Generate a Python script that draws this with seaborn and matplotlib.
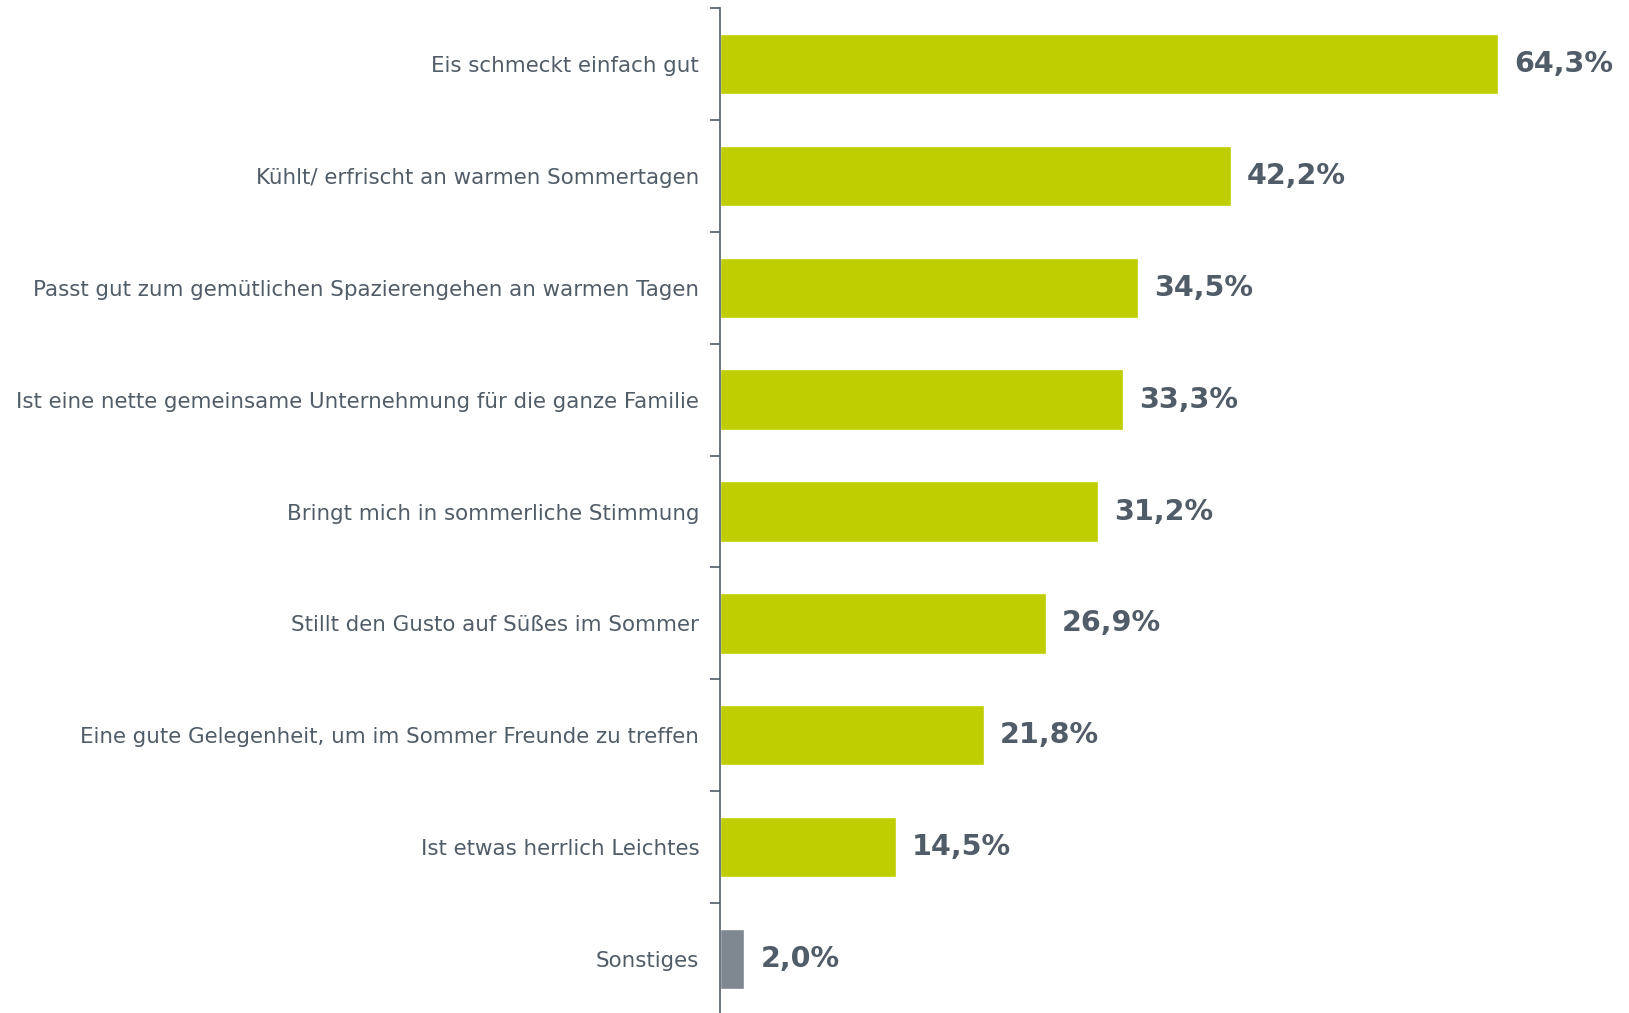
import pandas as pd
import matplotlib.pyplot as plt
import seaborn as sns
from matplotlib.ticker import FixedLocator

# Daten
categories = [
    "Eis schmeckt einfach gut",
    "Kühlt/ erfrischt an warmen Sommertagen",
    "Passt gut zum gemütlichen Spazierengehen an warmen Tagen",
    "Ist eine nette gemeinsame Unternehmung für die ganze Familie",
    "Bringt mich in sommerliche Stimmung",
    "Stillt den Gusto auf Süßes im Sommer",
    "Eine gute Gelegenheit, um im Sommer Freunde zu treffen",
    "Ist etwas herrlich Leichtes",
    "Sonstiges",
]
values = [64.3, 42.2, 34.5, 33.3, 31.2, 26.9, 21.8, 14.5, 2.0]
bar_colors = ["#BFCE00"] * 8 + ["#7F8790"]

TEXT = "#505C68"

sns.set_style("white")
plt.rcParams['font.family'] = ['DejaVu Sans']

df = pd.DataFrame({"Grund": categories, "Anteil": values})

fig = plt.figure(figsize=(16.29, 10.13), dpi=100)
ax = fig.add_axes([720 / 1629, -2 / 1013, 909 / 1629, 1007 / 1013])

sns.barplot(data=df, x="Anteil", y="Grund", hue="Grund", palette=bar_colors,
            legend=False, width=0.54, saturation=1, ax=ax)

ax.set_xlim(0, 75.1)
ax.set_ylim(len(categories) - 0.5, -0.5)

# Wertbeschriftungen
for i, v in enumerate(values):
    ax.text(v + 1.35, i, f"{v:.1f}%".replace(".", ","), va="center", ha="left",
            fontsize=20.6, fontweight="bold", color=TEXT)

ax.set_xlabel("")
ax.set_ylabel("")
ax.set_xticks([])
for s in ["top", "right", "bottom"]:
    ax.spines[s].set_visible(False)
ax.spines["left"].set_color(TEXT)
ax.spines["left"].set_linewidth(1.2)

ax.yaxis.set_minor_locator(FixedLocator([i - 0.5 for i in range(len(categories) + 1)]))
ax.tick_params(axis="y", which="major", length=0, pad=15, labelsize=15.4, labelcolor=TEXT)
ax.tick_params(axis="y", which="minor", length=7, width=1.2, color=TEXT, left=True)

fig.savefig("out.png", dpi=100)
